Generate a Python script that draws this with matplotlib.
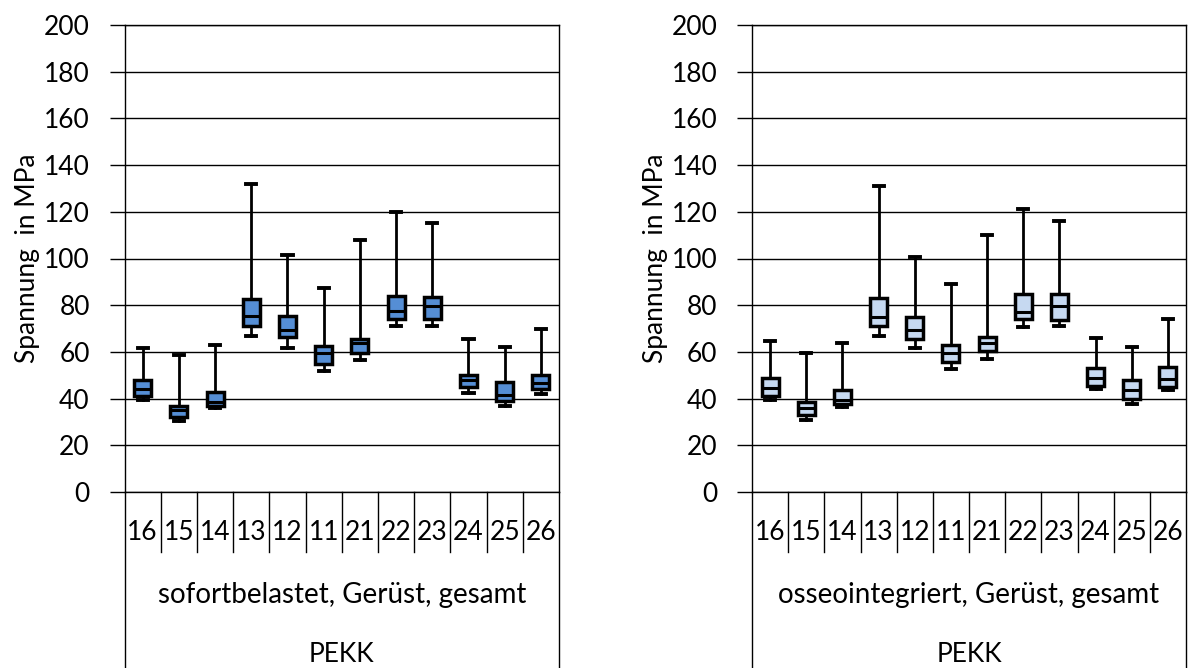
import matplotlib
matplotlib.use("Agg")
from matplotlib import pyplot as plt

plt.rcParams['font.family'] = ['Lato', 'DejaVu Sans']

labels = ['16', '15', '14', '13', '12', '11', '21', '22', '23', '24', '25', '26']

# sofortbelastet, Gerüst, gesamt
sof_min = [39.5, 30.5, 36, 67, 61.5, 52, 56.5, 71, 71, 42.5, 37, 42]
sof_q1 = [41, 32, 37, 71, 66.5, 55, 59.5, 74, 74, 45, 39, 44]
sof_med = [44, 35, 38.5, 75.5, 69.5, 59.5, 64, 77.5, 79.5, 48, 41.5, 46.5]
sof_q3 = [48, 37, 43, 82.5, 75.5, 62.5, 65.5, 84, 83.5, 50, 47, 50]
sof_max = [61.5, 58.5, 63, 132, 101.5, 87.5, 108, 120, 115, 65.5, 62, 70]

# osseointegriert, Gerüst, gesamt
oss_min = [39.5, 31, 36.5, 67, 61.5, 52.5, 57, 70.5, 71, 44, 37.5, 43.5]
oss_q1 = [41, 33, 37.5, 71, 65.5, 55.5, 60.5, 74, 73.5, 45.5, 40, 45]
oss_med = [44.5, 36, 39.5, 75, 69.5, 59.5, 64, 77, 79.5, 49, 43.5, 48.5]
oss_q3 = [49, 38.5, 43.5, 83, 75, 63, 66.5, 85, 85, 53, 48, 53.5]
oss_max = [64.5, 59.5, 64, 131, 100.5, 89, 110, 121, 116, 66, 62, 74]

W, H = 1189, 668
FS = 19
fig = plt.figure(figsize=(W / 100, H / 100), dpi=100)


def panel(x0, x1, ylab_x, mins, q1s, meds, q3s, maxs, color, group):
    top, bot = 25, 492
    ax = fig.add_axes([x0 / W, (H - bot) / H, (x1 - x0) / W, (bot - top) / H])
    stats = []
    for i in range(len(labels)):
        stats.append(dict(med=meds[i], q1=q1s[i], q3=q3s[i],
                          whislo=mins[i], whishi=maxs[i], fliers=[]))
    ax.bxp(stats, positions=range(len(labels)), widths=0.47, capwidths=0.28,
           patch_artist=True, showfliers=False,
           boxprops=dict(facecolor=color, edgecolor='black', linewidth=2.5),
           medianprops=dict(color='black', linewidth=2.2),
           whiskerprops=dict(color='black', linewidth=2.0),
           capprops=dict(color='black', linewidth=2.8))
    ax.set_xlim(-0.5, len(labels) - 0.5)
    ax.set_ylim(0, 200)
    ax.set_yticks(range(0, 201, 20))
    ax.yaxis.grid(True, color='black', linewidth=1.0)
    ax.set_axisbelow(True)
    ax.tick_params(axis='y', direction='out', length=11, width=1, pad=14, labelsize=FS)
    ax.set_xticks([])
    for s in ax.spines.values():
        s.set_linewidth(1.0)
    ax.set_ylabel('Spannung  in MPa', fontsize=FS)
    ax.yaxis.set_label_coords((ylab_x - x0) / (x1 - x0), 0.5)

    tr = ax.get_xaxis_transform()
    ph = bot - top
    for i in range(len(labels) + 1):
        x = i - 0.5
        y_end = -(H - bot) / ph if i in (0, len(labels)) else -60 / ph
        ax.plot([x, x], [0, y_end], color='black', linewidth=1.0,
                transform=tr, clip_on=False)
    for i, lab in enumerate(labels):
        ax.text(i, -40 / ph, lab, transform=tr, ha='center', va='center', fontsize=FS)
    ax.text((len(labels) - 1) / 2, -103 / ph, group, transform=tr,
            ha='center', va='center', fontsize=FS + 1)
    ax.text((len(labels) - 1) / 2, -163 / ph, 'PEKK', transform=tr,
            ha='center', va='center', fontsize=FS)
    return ax


panel(124.5, 559, 40, sof_min, sof_q1, sof_med, sof_q3, sof_max, '#558ED5',
      'sofortbelastet, Gerüst, gesamt')
panel(752, 1186, 668, oss_min, oss_q1, oss_med, oss_q3, oss_max, '#C6D9F1',
      'osseointegriert, Gerüst, gesamt')

fig.savefig('out.png', dpi=100)
